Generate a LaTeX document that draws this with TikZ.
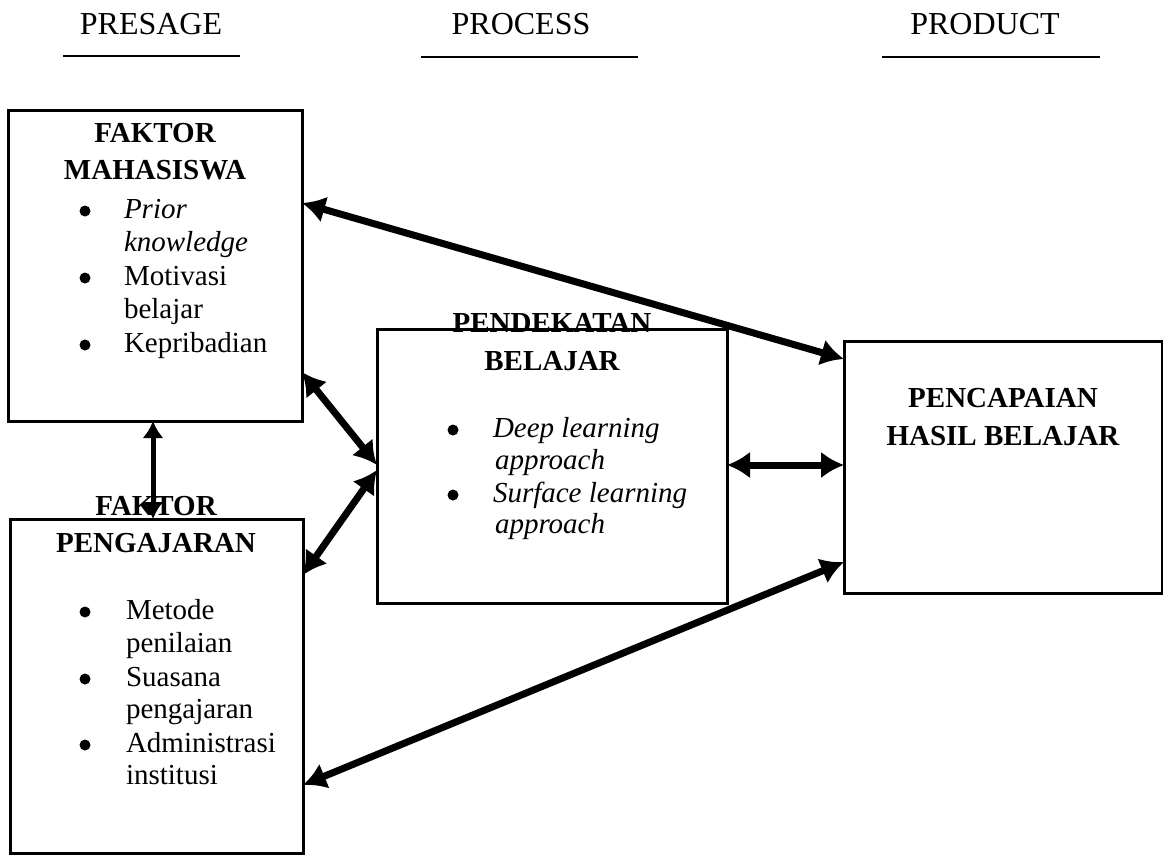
\documentclass[tikz,border=0pt]{standalone}
\usepackage{fontspec}
\setmainfont{Liberation Serif}
\usetikzlibrary{arrows.meta}

\begin{document}
\begin{tikzpicture}[x=1pt,y=-1pt,>={Latex[length=23pt,width=27pt]},
  every node/.style={inner sep=0pt,outer sep=0pt,font=\fontsize{29}{33}\selectfont},
  box/.style={draw,line width=3pt},
  head/.style={anchor=base,font=\fontsize{29}{33}\selectfont\bfseries},
  item/.style={anchor=base west},
  dot/.style={circle,fill,minimum size=11pt},
  stage/.style={anchor=base,font=\fontsize{32}{36}\selectfont},
  link/.style={<->,line width=7pt}]

\useasboundingbox (0,0) rectangle (1163,855);

% stages
\node[stage] (presage) at (151,34) {PRESAGE};
\node[stage] (process) at (521,34) {PROCESS};
\node[stage] (product) at (985,34) {PRODUCT};
\draw[line width=2pt] (63,56) -- (240,56);
\draw[line width=2pt] (421,57) -- (638,57);
\draw[line width=2pt] (882,57) -- (1100,57);

% faktor mahasiswa
\node[head] (mhsA) at (155,142) {FAKTOR};
\node[head] (mhsB) at (155,179) {MAHASISWA};
\node[dot] (mhsD1) at (85,211) {};
\node[item] (mhs1) at (124,218) {\textit{Prior}};
\node[item] (mhs2) at (124,251) {\textit{knowledge}};
\node[dot] (mhsD2) at (85,278) {};
\node[item] (mhs3) at (124,285) {Motivasi};
\node[item] (mhs4) at (124,318) {belajar};
\node[dot] (mhsD3) at (85,345) {};
\node[item] (mhs5) at (124,352) {Kepribadian};

% faktor pengajaran
\node[head] (ajarA) at (156,515) {FAKTOR};
\node[head] (ajarB) at (156,552) {PENGAJARAN};
\node[dot] (ajarD1) at (85,612) {};
\node[item] (ajar1) at (126,619) {Metode};
\node[item] (ajar2) at (126,652) {penilaian};
\node[dot] (ajarD2) at (85,679) {};
\node[item] (ajar3) at (126,686) {Suasana};
\node[item] (ajar4) at (126,718) {pengajaran};
\node[dot] (ajarD3) at (85,745) {};
\node[item] (ajar5) at (126,752) {Administrasi};
\node[item] (ajar6) at (126,784) {institusi};

% pendekatan belajar
\node[head] (pdkA) at (552,332) {PENDEKATAN};
\node[head] (pdkB) at (552,370) {BELAJAR};
\node[dot] (pdkD1) at (453,430) {};
\node[item] (pdk1) at (493,437) {\textit{Deep learning}};
\node[item] (pdk2) at (495,469) {\textit{approach}};
\node[dot] (pdkD2) at (453,495) {};
\node[item] (pdk3) at (493,502) {\textit{Surface learning}};
\node[item] (pdk4) at (495,533) {\textit{approach}};

% pencapaian
\node[head] (hslA) at (1003,407) {PENCAPAIAN};
\node[head] (hslB) at (1003,445) {HASIL BELAJAR};

% boxes
\node[box,minimum width=294pt,minimum height=311pt] (mhs) at (155,265.5) {};
\node[box,minimum width=293pt,minimum height=334pt] (ajar) at (156.5,686) {};
\node[box,minimum width=350pt,minimum height=274pt] (pdk) at (552,466) {};
\node[box,minimum width=318pt,minimum height=252pt] (hasil) at (1003,467) {};

% arrows
\draw[link] ([yshift=-93pt]mhs.north east) -- ([yshift=-18pt]hasil.north west);
\draw[link] ([yshift=-262pt]mhs.north east) -- ([yshift=-136pt]pdk.north west);
\draw[link] ([yshift=-141pt]pdk.north west) -- ([yshift=-56pt]ajar.north east);
\draw[<->,line width=5pt,>={Latex[length=17pt,width=21pt]}] ([xshift=145pt]mhs.south west) -- ([xshift=143pt]ajar.north west);
\draw[link] ([yshift=-136pt]pdk.north east) -- ([yshift=-124pt]hasil.north west);
\draw[link] ([yshift=-266pt]ajar.north east) -- ([yshift=-221pt]hasil.north west);
\end{tikzpicture}
\end{document}
